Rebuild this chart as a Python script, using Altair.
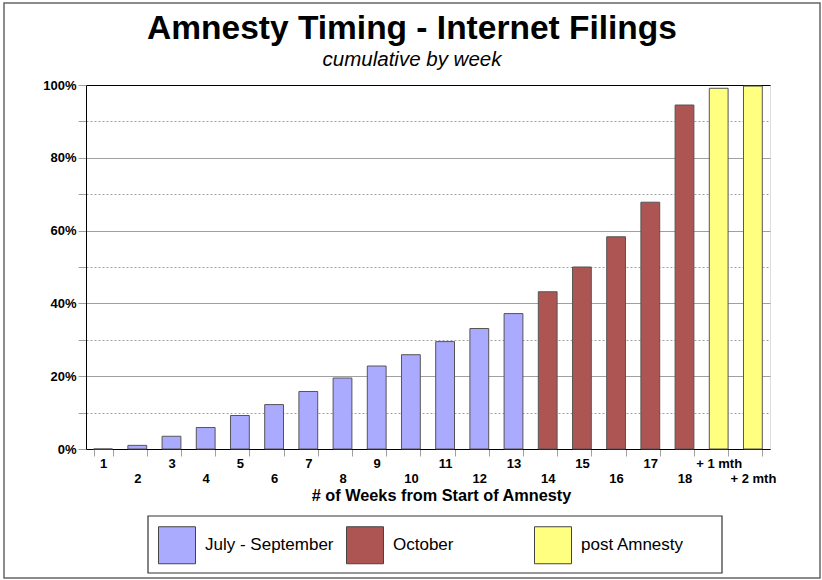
import json

import altair as alt
import pandas as pd

# Cumulative share of internet filings by week of the amnesty
weeks = [str(i) for i in range(1, 19)] + ["+ 1 mth", "+ 2 mth"]
share = [0.000, 0.010, 0.035, 0.059, 0.092, 0.122, 0.158, 0.195, 0.228, 0.259,
         0.295, 0.331, 0.372, 0.432, 0.500, 0.583, 0.678, 0.945, 0.991, 0.997]
period = ["July - September"] * 13 + ["October"] * 5 + ["post Amnesty"] * 2

periods = ["July - September", "October", "post Amnesty"]
period_colors = ["#aaaaff", "#ad5552", "#ffff80"]

y_ticks = [i / 10 for i in range(11)]

title_text = "Amnesty Timing - Internet Filings"
subtitle_text = "cumulative by week"

df = pd.DataFrame({"week": weeks, "share": share, "period": period})
one = pd.DataFrame({"n": [0]})  # single row for decorations drawn once

FONT = "Liberation Sans"
W, H = 684, 364

# even-numbered weeks drop to a second label line
stagger = (
    f"indexof({json.dumps(weeks)}, datum.value) % 2 == 1 "
    "? ['', datum.value] : datum.value"
)

bars = alt.Chart(df).mark_bar(stroke="#555555", strokeWidth=1).encode(
    x=alt.X(
        "week:N",
        sort=weeks,
        scale=alt.Scale(paddingInner=0.45, paddingOuter=0.225),
        axis=alt.Axis(
            title="# of Weeks from Start of Amnesty",
            titleFont=FONT,
            titleFontSize=16.3,
            titleFontWeight="bold",
            titleColor="black",
            titlePadding=2,
            titleX=355,
            titleAlign="center",
            labelAngle=0,
            labelExpr=stagger,
            labelFont=FONT,
            labelFontSize=13,
            labelFontWeight="bold",
            labelColor="black",
            labelLineHeight=15,
            labelPadding=1,
            labelOverlap=False,
            labelBound=False,
            tickBand="extent",
            tickColor="#a0a0a0",
            tickSize=7,
            domainColor="black",
            grid=False,
        ),
    ),
    y=alt.Y(
        "share:Q",
        scale=alt.Scale(domain=[0, 1], nice=False),
        axis=alt.Axis(
            title=None,
            values=y_ticks,
            labelExpr="round(datum.value * 10) % 2 == 0 ? format(datum.value, '.0%') : ''",
            labelFont=FONT,
            labelFontSize=13,
            labelFontWeight="bold",
            labelColor="black",
            labelPadding=2,
            tickColor="#a0a0a0",
            tickSize=8,
            domainColor="black",
            grid=True,
            gridColor=alt.condition("datum.value >= 1", alt.value("black"), alt.value("#a0a0a0")),
            gridDash=alt.condition(
                "round(datum.value * 10) % 2 == 1", alt.value([2, 2]), alt.value([])
            ),
        ),
    ),
    color=alt.Color(
        "period:N",
        scale=alt.Scale(domain=periods, range=period_colors),
        legend=alt.Legend(
            title=None,
            orient="none",
            legendX=62,
            legendY=431,
            direction="horizontal",
            columns=3,
            gridAlign="all",
            symbolType="square",
            symbolSize=1369,
            symbolStrokeColor="#444444",
            symbolStrokeWidth=1,
            symbolOpacity=1,
            labelFont=FONT,
            labelFontSize=17,
            labelColor="black",
            labelOffset=9,
            labelLimit=300,
            columnPadding=10,
            padding=10,
        ),
    ),
)

# grey frame around the whole figure
frame = alt.Chart(one).mark_rect(
    fillOpacity=0, stroke="#666666", strokeWidth=1.5
).encode(
    x=alt.value(-82), x2=alt.value(734), y=alt.value(-82), y2=alt.value(493)
)

# box around the legend
legend_box = alt.Chart(one).mark_rect(
    fill="white", stroke="#333333", strokeWidth=1.2
).encode(
    x=alt.value(62), x2=alt.value(636), y=alt.value(431), y2=alt.value(488)
)

title = alt.Chart(one).mark_text(
    text=title_text, font=FONT, fontSize=33.5, fontWeight="bold",
    color="black", align="center", baseline="alphabetic",
).encode(x=alt.value(326), y=alt.value(-46))

subtitle = alt.Chart(one).mark_text(
    text=subtitle_text, font=FONT, fontSize=20.5, fontStyle="italic",
    color="black", align="center", baseline="alphabetic",
).encode(x=alt.value(326), y=alt.value(-19))

chart = (
    alt.layer(frame, legend_box, title, subtitle, bars)
    .properties(
        width=W,
        height=H,
        padding={"left": 86, "top": 85, "right": 52, "bottom": 131},
        autosize=alt.AutoSizeParams(type="none"),
    )
    .configure_view(stroke="black", strokeWidth=1)
    .configure(background="white")
)

chart.save("out.html", embed_options={"renderer": "svg", "actions": False})
